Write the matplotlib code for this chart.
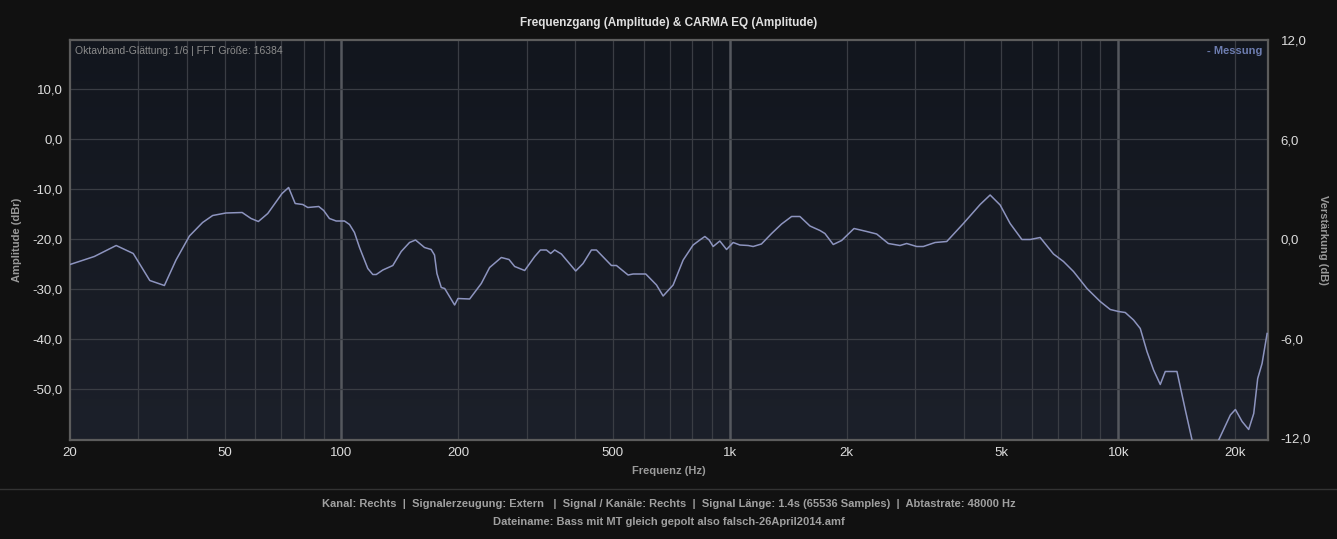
import numpy as np
import matplotlib.pyplot as plt
from matplotlib.ticker import FixedLocator, NullFormatter

plt.rcParams['font.family'] = ['Liberation Sans', 'DejaVu Sans']

freq = [20, 23.1, 26.3, 29.1, 32.1, 35.0, 37.5, 40.6, 43.9, 46.6, 50.4, 55.5, 58.5,
        61.1, 64.6, 70.3, 73.1, 76.0, 79.5, 81.9, 87.4, 90.0, 93.1, 96.9, 101.8,
        104.9, 108.0, 111.3, 116.9, 120.4, 122.9, 127.8, 135.6, 142.5, 149.7, 155.1,
        163.6, 170.2, 173.6, 176.1, 180.7, 184.4, 195.6, 199.5, 213.8, 229.1, 240.7,
        258.0, 270.0, 279.2, 296.3, 314.5, 325.3, 337.1, 345.7, 354.0, 368.3, 401.0,
        418.8, 440.1, 453.4, 495.5, 510.5, 547.0, 563.4, 607.4, 647.4, 673.3, 714.4,
        758.3, 804.3, 837.0, 862.3, 884.6, 905.7, 942.3, 980.6, 1020, 1061, 1115,
        1148, 1206, 1281, 1359, 1442, 1515, 1608, 1706, 1757, 1846, 1940, 2088, 2251,
        2388, 2559, 2742, 2853, 3028, 3149, 3376, 3618, 3993, 4410, 4679, 4965, 5268,
        5648, 5934, 6295, 6812, 7228, 7670, 8307, 8986, 9537, 10020, 10424, 10950,
        11395, 11857, 12330, 12830, 13216, 14164, 14885, 15490, 16300, 17200, 18140,
        19440, 20030, 20840, 21670, 22330, 22860, 23460, 24170]
level = [-25.1, -23.5, -21.3, -22.9, -28.3, -29.3, -24.2, -19.4, -16.7, -15.3, -14.8,
         -14.7, -15.9, -16.5, -14.9, -10.9, -9.7, -12.9, -13.1, -13.7, -13.5, -14.3,
         -15.9, -16.4, -16.4, -17.1, -18.7, -21.7, -25.9, -27.1, -27.1, -26.2, -25.3,
         -22.5, -20.7, -20.2, -21.7, -22.1, -23.2, -26.9, -29.7, -29.9, -33.2, -31.9,
         -32.0, -28.9, -25.7, -23.7, -24.1, -25.5, -26.3, -23.5, -22.2, -22.2, -22.9,
         -22.2, -23.0, -26.4, -24.9, -22.2, -22.2, -25.3, -25.3, -27.2, -27.0, -27.0,
         -29.2, -31.4, -29.2, -24.2, -21.2, -20.2, -19.5, -20.2, -21.5, -20.4, -22.1,
         -20.7, -21.2, -21.3, -21.5, -21.0, -18.9, -17.0, -15.5, -15.5, -17.4, -18.3,
         -18.9, -21.1, -20.3, -17.9, -18.5, -19.0, -20.9, -21.3, -20.9, -21.5, -21.5,
         -20.7, -20.5, -16.9, -13.1, -11.2, -13.2, -16.9, -20.1, -20.1, -19.7, -23.0,
         -24.5, -26.5, -29.9, -32.5, -34.1, -34.5, -34.7, -36.2, -37.9, -42.5, -46.2,
         -49.1, -46.5, -46.5, -54.2, -60.2, -64.0, -65.0, -60.2, -55.2, -54.1, -56.5,
         -58.1, -54.9, -47.9, -44.9, -38.9]

x_ticks = [20, 50, 100, 200, 500, 1000, 2000, 5000, 10000, 20000]
x_labels = ['20', '50', '100', '200', '500', '1k', '2k', '5k', '10k', '20k']
y_ticks = [-50, -40, -30, -20, -10, 0, 10]
gain_ticks = [-12, -6, 0, 6, 12]

bg = '#111111'
fig = plt.figure(figsize=(13.37, 5.39), dpi=100, facecolor=bg)
ax = fig.add_axes([70 / 1337, 99 / 539, 1198 / 1337, 400 / 539])

# dark gradient plot background
grad = np.linspace(0, 1, 256).reshape(-1, 1)
cmap = plt.matplotlib.colors.LinearSegmentedColormap.from_list('bgc', ['#1c202a', '#12161e'])
ax.imshow(grad, extent=[0, 1, 0, 1], transform=ax.transAxes, cmap=cmap,
          aspect='auto', origin='lower', zorder=0)

ax.set_xscale('log')
ax.set_xlim(20, 24300)
ax.set_ylim(-60.2, 19.8)

minor = [m * d for d in (10, 100, 1000, 10000) for m in range(2, 10) if 20 < m * d < 24300]
for f in minor:
    ax.axvline(f, color='#3a3d44', lw=0.9, zorder=1)
for f in (100, 1000, 10000):
    ax.axvline(f, color='#55585e', lw=1.8, zorder=1)
for v in y_ticks:
    ax.axhline(v, color='#3a3d44', lw=0.9, zorder=1)

ax.plot(freq, level, color='#8d94bf', lw=1.1, zorder=3)

ax.xaxis.set_major_locator(FixedLocator(x_ticks))
ax.set_xticklabels(x_labels)
ax.xaxis.set_minor_locator(FixedLocator([]))
ax.xaxis.set_minor_formatter(NullFormatter())
ax.set_yticks(y_ticks)
ax.set_yticklabels([f'{v:.1f}'.replace('.', ',') for v in y_ticks])
ax.tick_params(colors='#dddddd', labelsize=9.5, length=0, pad=5)

for s in ax.spines.values():
    s.set_color('#5c5c5c')
    s.set_linewidth(1.6)

ax.set_xlabel('Frequenz (Hz)', color='#9a9a9a', fontsize=8, fontweight='bold', labelpad=5)
ax.set_ylabel('Amplitude (dBr)', color='#9a9a9a', fontsize=8, fontweight='bold', labelpad=8)
ax.set_title('Frequenzgang (Amplitude) & CARMA EQ (Amplitude)', color='#e0e0e0',
             fontsize=8.5, fontweight='bold', pad=10)

ax.text(0.004, 0.985, 'Oktavband-Glättung: 1/6 | FFT Größe: 16384', transform=ax.transAxes,
        color='#8c8c8c', fontsize=7.5, va='top', ha='left', zorder=4)
ax.text(0.9955, 0.985, '- Messung', transform=ax.transAxes, color='#6d7db0',
        fontsize=8, fontweight='bold', va='top', ha='right', zorder=4)

ax2 = ax.twinx()
ax2.set_ylim(-12.1, 12.0)
ax2.set_yticks(gain_ticks)
ax2.set_yticklabels([f'{v:.1f}'.replace('.', ',') for v in gain_ticks])
ax2.tick_params(colors='#dddddd', labelsize=9.5, length=0, pad=9)
for s in ax2.spines.values():
    s.set_visible(False)
ax2.set_ylabel('Verstärkung (dB)', color='#9a9a9a', fontsize=8, fontweight='bold',
               rotation=270, labelpad=12)

# footer
fig.add_artist(plt.Line2D([0, 1], [1 - 489 / 539] * 2, color='#333333', lw=1))
fig.text(0.5, 1 - 504 / 539, 'Kanal: Rechts  |  Signalerzeugung: Extern   |  Signal / Kanäle: Rechts  |  '
         'Signal Länge: 1.4s (65536 Samples)  |  Abtastrate: 48000 Hz',
         ha='center', va='center', color='#a0a0a0', fontsize=8, fontweight='bold')
fig.text(0.5, 1 - 522 / 539, 'Dateiname: Bass mit MT gleich gepolt also falsch-26April2014.amf',
         ha='center', va='center', color='#a0a0a0', fontsize=8, fontweight='bold')

fig.savefig('out.png', dpi=100, facecolor=bg)
